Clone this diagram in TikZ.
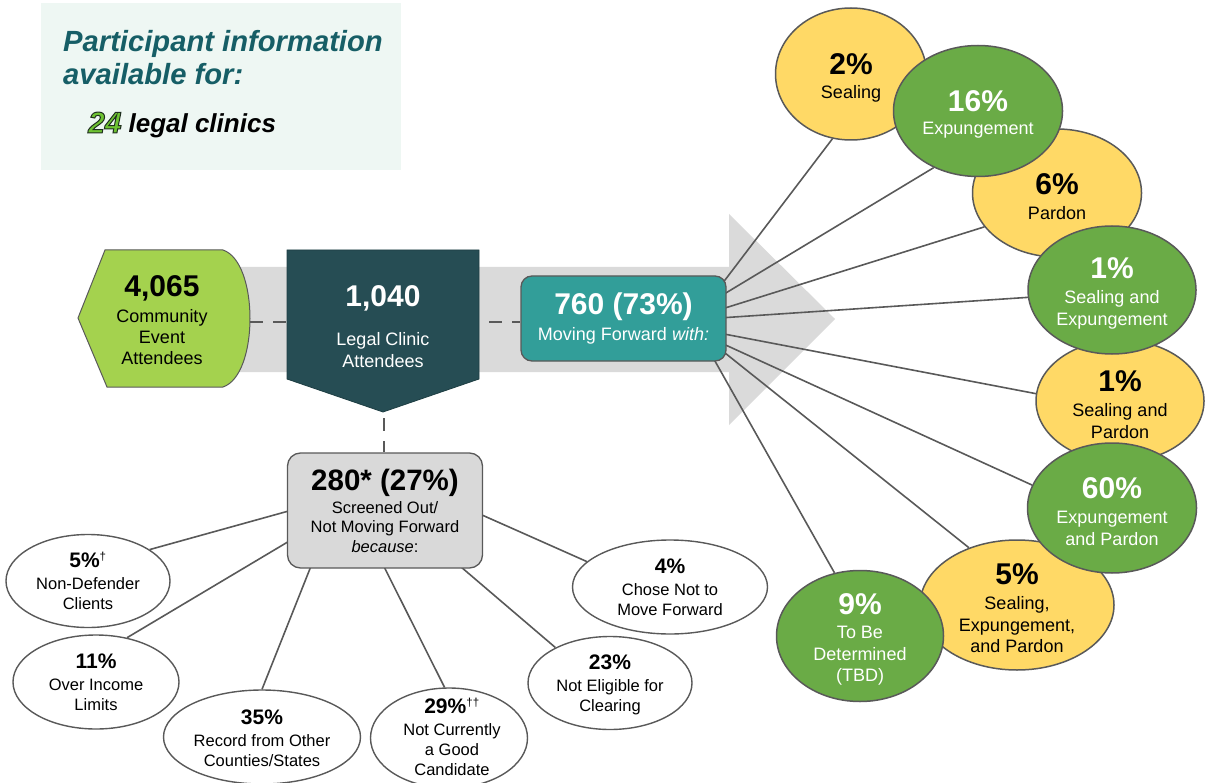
\documentclass[tikz,border=0pt]{standalone}
\usepackage{fontspec}
\setmainfont{Liberation Sans}
\usetikzlibrary{shapes.geometric,calc}
\definecolor{mint}{RGB}{238,247,243}
\definecolor{hdr}{RGB}{22,94,102}
\definecolor{arrowgray}{RGB}{218,218,218}
\definecolor{hexgreen}{RGB}{164,210,78}
\definecolor{darkteal}{RGB}{38,77,84}
\definecolor{tealbox}{RGB}{50,158,153}
\definecolor{boxgray}{RGB}{217,217,217}
\definecolor{yel}{RGB}{255,217,102}
\definecolor{grn}{RGB}{106,171,70}
\definecolor{edge}{RGB}{89,89,89}
\definecolor{brightgreen}{RGB}{110,195,50}
\pgfdeclarelayer{back}\pgfdeclarelayer{mid}\pgfsetlayers{back,mid,main}
\newcommand\rp[1]{{\fontsize{30}{30}\selectfont\bfseries #1}}
\newcommand\bp[1]{{\fontsize{21}{21}\selectfont\bfseries #1}}
\newcommand\outl[1]{{\color{brightgreen}\special{pdf:literal direct 2 Tr 1.0 w 0.12 0.18 0.12 RG}#1\special{pdf:literal direct 0 Tr}}}
\begin{document}
\begin{tikzpicture}[x=1pt,y=-1pt,
  conn/.style={draw=edge, line width=1.6pt},
  dashline/.style={draw=edge, line width=2.6pt, dash pattern=on 13pt off 10pt},
  rell/.style={ellipse, draw=edge, line width=1.5pt, inner sep=0pt},
  yell/.style={rell, fill=yel},
  gell/.style={rell, fill=grn},
  rtxt/.style={align=center, inner sep=0pt, yshift=-3.5pt, font=\fontsize{18}{21.5}\selectfont},
  wtxt/.style={rtxt, text=white},
  wel/.style={ellipse, draw=edge, fill=white, line width=1.4pt, inner sep=0pt},
  btxt/.style={align=center, inner sep=0pt, font=\fontsize{16.5}{20}\selectfont},
  hdrtext/.style={anchor=base west, inner sep=0pt, text=hdr, font=\fontsize{29.2}{34}\selectfont\bfseries\itshape},
  boxtxt/.style={align=center, inner sep=0pt, font=\fontsize{18}{21}\selectfont},
]
\useasboundingbox (0,0) rectangle (1209,783);

% header
\fill[mint] (41,3) rectangle (401,170);
\node[hdrtext] (h1) at (63,52) {Participant information};
\node[hdrtext] (h2) at (63,85) {available for:};
\node[anchor=base west, inner sep=0pt, font=\fontsize{26}{30}\selectfont\bfseries\itshape] (h3) at (88,133) {{\fontsize{30}{30}\selectfont\outl{24}}\hspace{7pt}legal clinics};

% left hexagon
\draw[fill=hexgreen, draw=edge, line width=1pt] (78,318) -- (105,250) -- (223,250)
  .. controls (259,262) and (259,375) .. (223,387) -- (107,387) -- cycle;
\node[boxtxt] (ce) at (162,320) {\rp{4,065}\\[5pt]Community\\Event\\Attendees};
\coordinate (hexr) at (250,322);

% pentagon
\draw[fill=darkteal, draw=darkteal!80!black, line width=0.8pt] (287,250) -- (479,250) -- (479,379) -- (383,412) -- (287,379) -- cycle;
\node[boxtxt, text=white, font=\fontsize{18}{22}\selectfont] (lc) at (383,327) {\rp{1,040}\\[17pt]Legal Clinic\\Attendees};
\coordinate (pentl) at (287,322);
\coordinate (pentr) at (479,322);
\coordinate (pentb) at (384,412);

% moving forward box
\node[draw=edge, fill=tealbox, rounded corners=11pt, minimum width=205pt, minimum height=85pt, line width=1.3pt,
  boxtxt, text=white, font=\fontsize{18}{21}\selectfont] (m760) at (623.5,318.5) {\rp{760 (73\%)}\\[5pt]Moving Forward \textit{with:}};

% screened out box
\node[draw=edge, fill=boxgray, rounded corners=13pt, minimum width=195pt, minimum height=115pt, line width=1.3pt,
  boxtxt, font=\fontsize{16.5}{19.5}\selectfont] (sc) at (385,510.5)
  {{\fontsize{29.5}{30}\selectfont\bfseries 280* (27\%)}\\[3.5pt]Screened Out/\\Not Moving Forward\\\textit{because}:};

% right ellipses (yellow below green)
\node[yell, minimum width=151pt, minimum height=132pt, label={[rtxt]center:{\rp{2\%}\\[2.5pt]Sealing}}] (e2) at (851,74) {};
\node[yell, minimum width=169pt, minimum height=128pt, label={[rtxt]center:{\rp{6\%}\\[3.5pt]Pardon}}] (e6) at (1057,193) {};
\node[yell, minimum width=168pt, minimum height=122pt, label={[rtxt]center:{\rp{1\%}\\[3.5pt]Sealing and\\Pardon}}] (esp) at (1120,401) {};
\node[yell, minimum width=194pt, minimum height=130pt, label={[rtxt]center:{\rp{5\%}\\[3.5pt]Sealing,\\Expungement,\\and Pardon}}] (e5) at (1017,605) {};
\node[gell, minimum width=169pt, minimum height=131pt, label={[wtxt]center:{\rp{16\%}\\[1.5pt]Expungement}}] (e16) at (978,111) {};
\node[gell, minimum width=168pt, minimum height=128pt, label={[wtxt]center:{\rp{1\%}\\[3.5pt]Sealing and\\Expungement}}] (ese) at (1112,290) {};
\node[gell, minimum width=169pt, minimum height=130pt, label={[wtxt]center:{\rp{60\%}\\[3.5pt]Expungement\\and Pardon}}] (e60) at (1112,508) {};
\node[gell, minimum width=167pt, minimum height=131pt, label={[wtxt]center:{\rp{9\%}\\[2.5pt]To Be\\Determined\\(TBD)}}] (e9) at (860,636) {};

% bottom ellipses
\node[wel, minimum width=164pt, minimum height=93pt, label={[btxt]center:{\bp{5\%}\smash{\textsuperscript{†}}\\[2pt]Non-Defender\\Clients}}] (b5) at (88,581) {};
\node[wel, minimum width=166pt, minimum height=94pt, label={[btxt]center:{\bp{11\%}\\[2pt]Over Income\\Limits}}] (b11) at (96,682) {};
\node[wel, minimum width=197pt, minimum height=94pt, label={[btxt, yshift=-1pt]center:{\bp{35\%}\\[2pt]Record from Other\\Counties/States}}] (b35) at (262,737) {};
\node[wel, minimum width=157pt, minimum height=100pt, label={[btxt, yshift=1pt, xshift=3pt]center:{\bp{29\%}\smash{\textsuperscript{††}}\\[2pt]Not Currently\\a Good\\Candidate}}] (b29) at (449,738) {};
\node[wel, minimum width=164pt, minimum height=93pt, label={[btxt, yshift=-2pt]center:{\bp{23\%}\\[2pt]Not Eligible for\\Clearing}}] (b23) at (610,683) {};
\node[wel, minimum width=195pt, minimum height=94pt, label={[btxt]center:{\bp{4\%}\\[2pt]Chose Not to\\Move Forward}}] (b4) at (670,587) {};

% gray arrow
\begin{pgfonlayer}{back}
\fill[arrowgray] (110,267) -- (729,267) -- (729,214) -- (835,319) -- (729,425) -- (729,372) -- (110,372) -- cycle;
\end{pgfonlayer}

% connectors
\begin{pgfonlayer}{mid}
\draw[dashline] (hexr) -- (pentl);
\draw[dashline, dash phase=13pt] (pentr) -- (pentr -| m760.west);
\draw[dashline, dash phase=17pt] (pentb) -- (pentb |- sc.north);
\coordinate (s1) at ($(m760.east)+(-2,-38)$);
\coordinate (s2) at ($(m760.east)+(0,-26)$);
\coordinate (s3) at ($(m760.east)+(0,-11)$);
\coordinate (s4) at ($(m760.east)+(0,-1)$);
\coordinate (s5) at ($(m760.east)+(0,16)$);
\coordinate (s6) at ($(m760.east)+(0,27)$);
\coordinate (s7) at ($(m760.east)+(-1,35)$);
\coordinate (s8) at ($(m760.east)+(-12,42)$);
\foreach \s/\e in {s1/e2.254, s2/e16.232, s3/e6.205, s4/ese.185, s5/esp.175, s6/e60.164, s7/e5.130, s8/e9.112}
  \draw[conn] ($(\s)!-10pt!(\e)$) -- (\e);
\coordinate (t1) at ($(sc.west)+(0,1)$);
\coordinate (t2) at ($(sc.west)+(0,32)$);
\coordinate (t3) at ($(sc.south)+(-75,0)$);
\coordinate (t4) at (sc.south);
\coordinate (t5) at ($(sc.south)+(78,0)$);
\coordinate (t6) at ($(sc.east)+(0,5)$);
\foreach \s/\e in {t1/b5.27, t2/b11.55, t3/b35.90, t4/b29.95, t5/b23.147, t6/b4.163}
  \draw[conn] ($(\s)!-10pt!(\e)$) -- (\e);
\end{pgfonlayer}
\end{tikzpicture}
\end{document}
